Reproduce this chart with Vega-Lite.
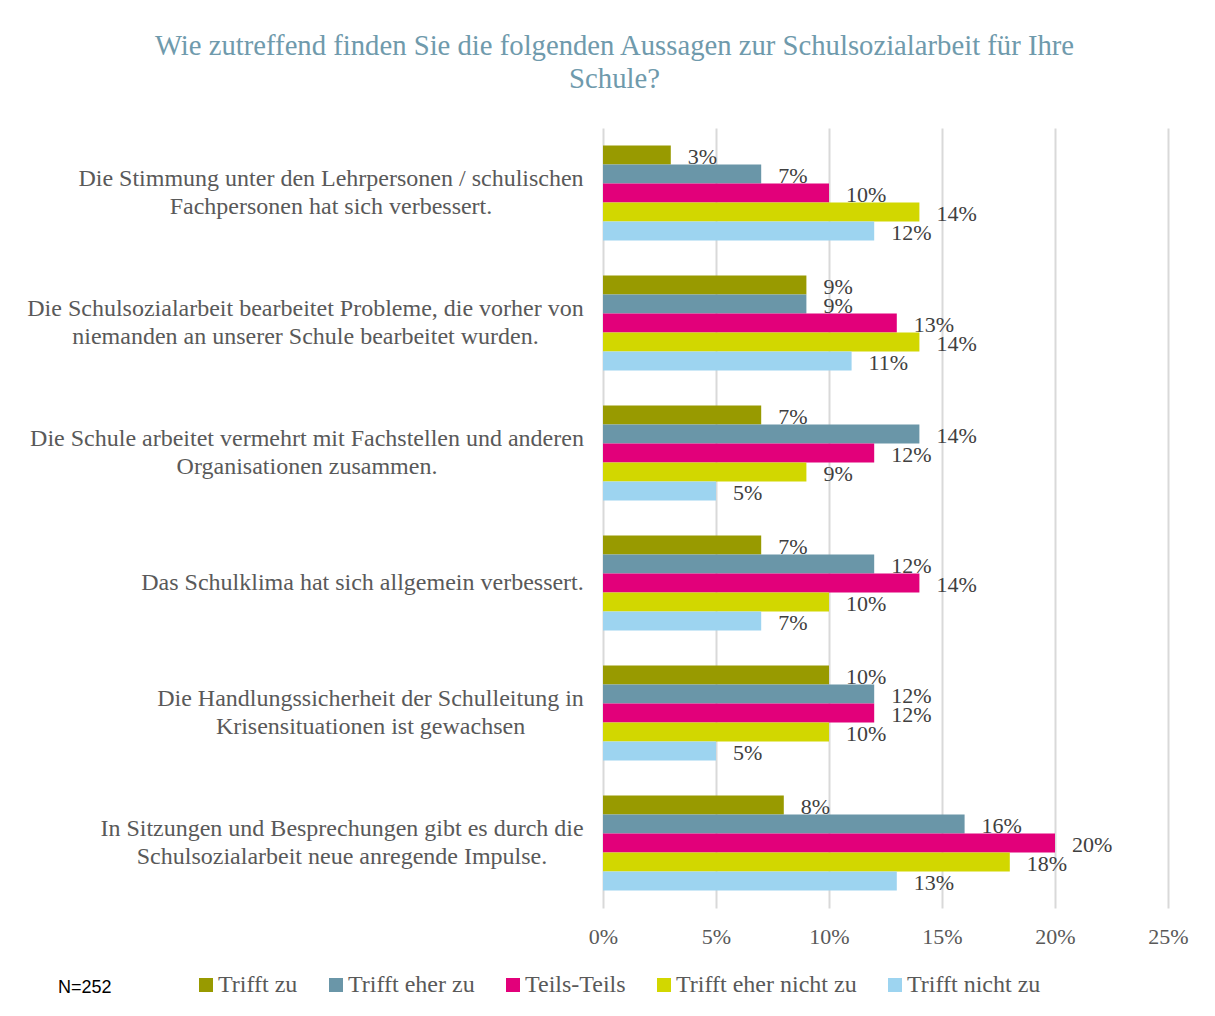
{
  "$schema": "https://vega.github.io/schema/vega-lite/v6.json",
  "width": 565,
  "height": 780,
  "autosize": {"type": "none"},
  "padding": {"left": 603, "top": 128, "right": 47, "bottom": 108},
  "background": "white",
  "title": {
    "text": ["Wie zutreffend finden Sie die folgenden Aussagen zur Schulsozialarbeit für Ihre", "Schule?"],
    "font": "Liberation Serif",
    "fontSize": 28.7,
    "fontWeight": "normal",
    "color": "#6F9AAC",
    "anchor": "middle",
    "frame": "group",
    "dx": -271,
    "offset": 34,
    "lineHeight": 33
  },
  "data": {
    "values": [
      {"Aussage": "Die Stimmung unter den Lehrpersonen / schulischen|Fachpersonen hat sich verbessert.", "Antwort": "Trifft zu", "Anteil": 0.03},
      {"Aussage": "Die Stimmung unter den Lehrpersonen / schulischen|Fachpersonen hat sich verbessert.", "Antwort": "Trifft eher zu", "Anteil": 0.07},
      {"Aussage": "Die Stimmung unter den Lehrpersonen / schulischen|Fachpersonen hat sich verbessert.", "Antwort": "Teils-Teils", "Anteil": 0.10},
      {"Aussage": "Die Stimmung unter den Lehrpersonen / schulischen|Fachpersonen hat sich verbessert.", "Antwort": "Trifft eher nicht zu", "Anteil": 0.14},
      {"Aussage": "Die Stimmung unter den Lehrpersonen / schulischen|Fachpersonen hat sich verbessert.", "Antwort": "Trifft nicht zu", "Anteil": 0.12},
      {"Aussage": "Die Schulsozialarbeit bearbeitet Probleme, die vorher von|niemanden an unserer Schule bearbeitet wurden.", "Antwort": "Trifft zu", "Anteil": 0.09},
      {"Aussage": "Die Schulsozialarbeit bearbeitet Probleme, die vorher von|niemanden an unserer Schule bearbeitet wurden.", "Antwort": "Trifft eher zu", "Anteil": 0.09},
      {"Aussage": "Die Schulsozialarbeit bearbeitet Probleme, die vorher von|niemanden an unserer Schule bearbeitet wurden.", "Antwort": "Teils-Teils", "Anteil": 0.13},
      {"Aussage": "Die Schulsozialarbeit bearbeitet Probleme, die vorher von|niemanden an unserer Schule bearbeitet wurden.", "Antwort": "Trifft eher nicht zu", "Anteil": 0.14},
      {"Aussage": "Die Schulsozialarbeit bearbeitet Probleme, die vorher von|niemanden an unserer Schule bearbeitet wurden.", "Antwort": "Trifft nicht zu", "Anteil": 0.11},
      {"Aussage": "Die Schule arbeitet vermehrt mit Fachstellen und anderen|Organisationen zusammen.", "Antwort": "Trifft zu", "Anteil": 0.07},
      {"Aussage": "Die Schule arbeitet vermehrt mit Fachstellen und anderen|Organisationen zusammen.", "Antwort": "Trifft eher zu", "Anteil": 0.14},
      {"Aussage": "Die Schule arbeitet vermehrt mit Fachstellen und anderen|Organisationen zusammen.", "Antwort": "Teils-Teils", "Anteil": 0.12},
      {"Aussage": "Die Schule arbeitet vermehrt mit Fachstellen und anderen|Organisationen zusammen.", "Antwort": "Trifft eher nicht zu", "Anteil": 0.09},
      {"Aussage": "Die Schule arbeitet vermehrt mit Fachstellen und anderen|Organisationen zusammen.", "Antwort": "Trifft nicht zu", "Anteil": 0.05},
      {"Aussage": "Das Schulklima hat sich allgemein verbessert.", "Antwort": "Trifft zu", "Anteil": 0.07},
      {"Aussage": "Das Schulklima hat sich allgemein verbessert.", "Antwort": "Trifft eher zu", "Anteil": 0.12},
      {"Aussage": "Das Schulklima hat sich allgemein verbessert.", "Antwort": "Teils-Teils", "Anteil": 0.14},
      {"Aussage": "Das Schulklima hat sich allgemein verbessert.", "Antwort": "Trifft eher nicht zu", "Anteil": 0.10},
      {"Aussage": "Das Schulklima hat sich allgemein verbessert.", "Antwort": "Trifft nicht zu", "Anteil": 0.07},
      {"Aussage": "Die Handlungssicherheit der Schulleitung in|Krisensituationen ist gewachsen", "Antwort": "Trifft zu", "Anteil": 0.10},
      {"Aussage": "Die Handlungssicherheit der Schulleitung in|Krisensituationen ist gewachsen", "Antwort": "Trifft eher zu", "Anteil": 0.12},
      {"Aussage": "Die Handlungssicherheit der Schulleitung in|Krisensituationen ist gewachsen", "Antwort": "Teils-Teils", "Anteil": 0.12},
      {"Aussage": "Die Handlungssicherheit der Schulleitung in|Krisensituationen ist gewachsen", "Antwort": "Trifft eher nicht zu", "Anteil": 0.10},
      {"Aussage": "Die Handlungssicherheit der Schulleitung in|Krisensituationen ist gewachsen", "Antwort": "Trifft nicht zu", "Anteil": 0.05},
      {"Aussage": "In Sitzungen und Besprechungen gibt es durch die|Schulsozialarbeit neue anregende Impulse.", "Antwort": "Trifft zu", "Anteil": 0.08},
      {"Aussage": "In Sitzungen und Besprechungen gibt es durch die|Schulsozialarbeit neue anregende Impulse.", "Antwort": "Trifft eher zu", "Anteil": 0.16},
      {"Aussage": "In Sitzungen und Besprechungen gibt es durch die|Schulsozialarbeit neue anregende Impulse.", "Antwort": "Teils-Teils", "Anteil": 0.20},
      {"Aussage": "In Sitzungen und Besprechungen gibt es durch die|Schulsozialarbeit neue anregende Impulse.", "Antwort": "Trifft eher nicht zu", "Anteil": 0.18},
      {"Aussage": "In Sitzungen und Besprechungen gibt es durch die|Schulsozialarbeit neue anregende Impulse.", "Antwort": "Trifft nicht zu", "Anteil": 0.13}
    ]
  },
  "encoding": {
    "y": {
      "field": "Aussage",
      "type": "nominal",
      "sort": null,
      "title": null,
      "scale": {"paddingInner": 0.269, "paddingOuter": 0.1346},
      "axis": {
        "domain": false,
        "ticks": false,
        "tickSize": 0,
        "labelPadding": {
          "condition": [
            {"test": "indexof(datum.value,'Stimmung')>=0", "value": 272.5},
            {"test": "indexof(datum.value,'Probleme')>=0", "value": 298},
            {"test": "indexof(datum.value,'Fachstellen')>=0", "value": 296.5},
            {"test": "indexof(datum.value,'Schulklima')>=0", "value": 241},
            {"test": "indexof(datum.value,'Handlungs')>=0", "value": 233}
          ],
          "value": 261.5
        },
        "labelOffset": {"condition": {"test": "indexof(datum.value,'|')>=0", "value": -14}, "value": 0},
        "labelAlign": "center",
        "labelBaseline": "middle",
        "labelExpr": "split(datum.value, '|')",
        "labelFont": "Liberation Serif",
        "labelFontSize": 24,
        "labelColor": "#595959",
        "labelLineHeight": 28,
        "labelLimit": 800,
        "grid": false
      }
    },
    "yOffset": {
      "field": "Antwort",
      "type": "nominal",
      "sort": ["Trifft zu", "Trifft eher zu", "Teils-Teils", "Trifft eher nicht zu", "Trifft nicht zu"],
      "scale": {"paddingInner": 0, "paddingOuter": 0}
    },
    "x": {
      "field": "Anteil",
      "type": "quantitative",
      "title": null,
      "scale": {"domain": [0, 0.25], "nice": false},
      "axis": {
        "format": ".0%",
        "values": [0, 0.05, 0.1, 0.15, 0.2, 0.25],
        "domain": false,
        "ticks": false,
        "labelFlush": false,
        "labelPadding": 18,
        "labelFont": "Liberation Serif",
        "labelFontSize": 22,
        "labelColor": "#595959",
        "gridColor": "#D9D9D9",
        "gridWidth": 2
      }
    }
  },
  "layer": [
    {
      "mark": {"type": "bar"},
      "encoding": {
        "color": {
          "field": "Antwort",
          "type": "nominal",
          "sort": ["Trifft zu", "Trifft eher zu", "Teils-Teils", "Trifft eher nicht zu", "Trifft nicht zu"],
          "scale": {
            "domain": ["Trifft zu", "Trifft eher zu", "Teils-Teils", "Trifft eher nicht zu", "Trifft nicht zu"],
            "range": ["#989A00", "#6A96A8", "#E2007A", "#D2D700", "#9DD4F0"]
          },
          "legend": {
            "orient": "none",
            "legendX": -545,
            "legendY": 845,
            "direction": "horizontal",
            "title": "N=252",
            "titleOrient": "left",
            "titleAnchor": "end",
            "titleFont": "Liberation Sans",
            "titleFontSize": 18,
            "titleFontWeight": "normal",
            "titleColor": "#000000",
            "titlePadding": 82,
            "symbolType": "square",
            "symbolSize": 196,
            "symbolStrokeWidth": 0,
            "labelFont": "Liberation Serif",
            "labelFontSize": 24,
            "labelColor": "#595959",
            "labelOffset": 0,
            "labelLimit": 400,
            "columnPadding": 26
          }
        }
      }
    },
    {
      "mark": {"type": "text", "align": "left", "baseline": "middle", "dx": 17, "dy": 2, "font": "Liberation Serif", "fontSize": 22, "color": "#404040"},
      "encoding": {
        "text": {"field": "Anteil", "type": "quantitative", "format": ".0%"}
      }
    }
  ],
  "config": {
    "view": {"stroke": null}
  }
}
